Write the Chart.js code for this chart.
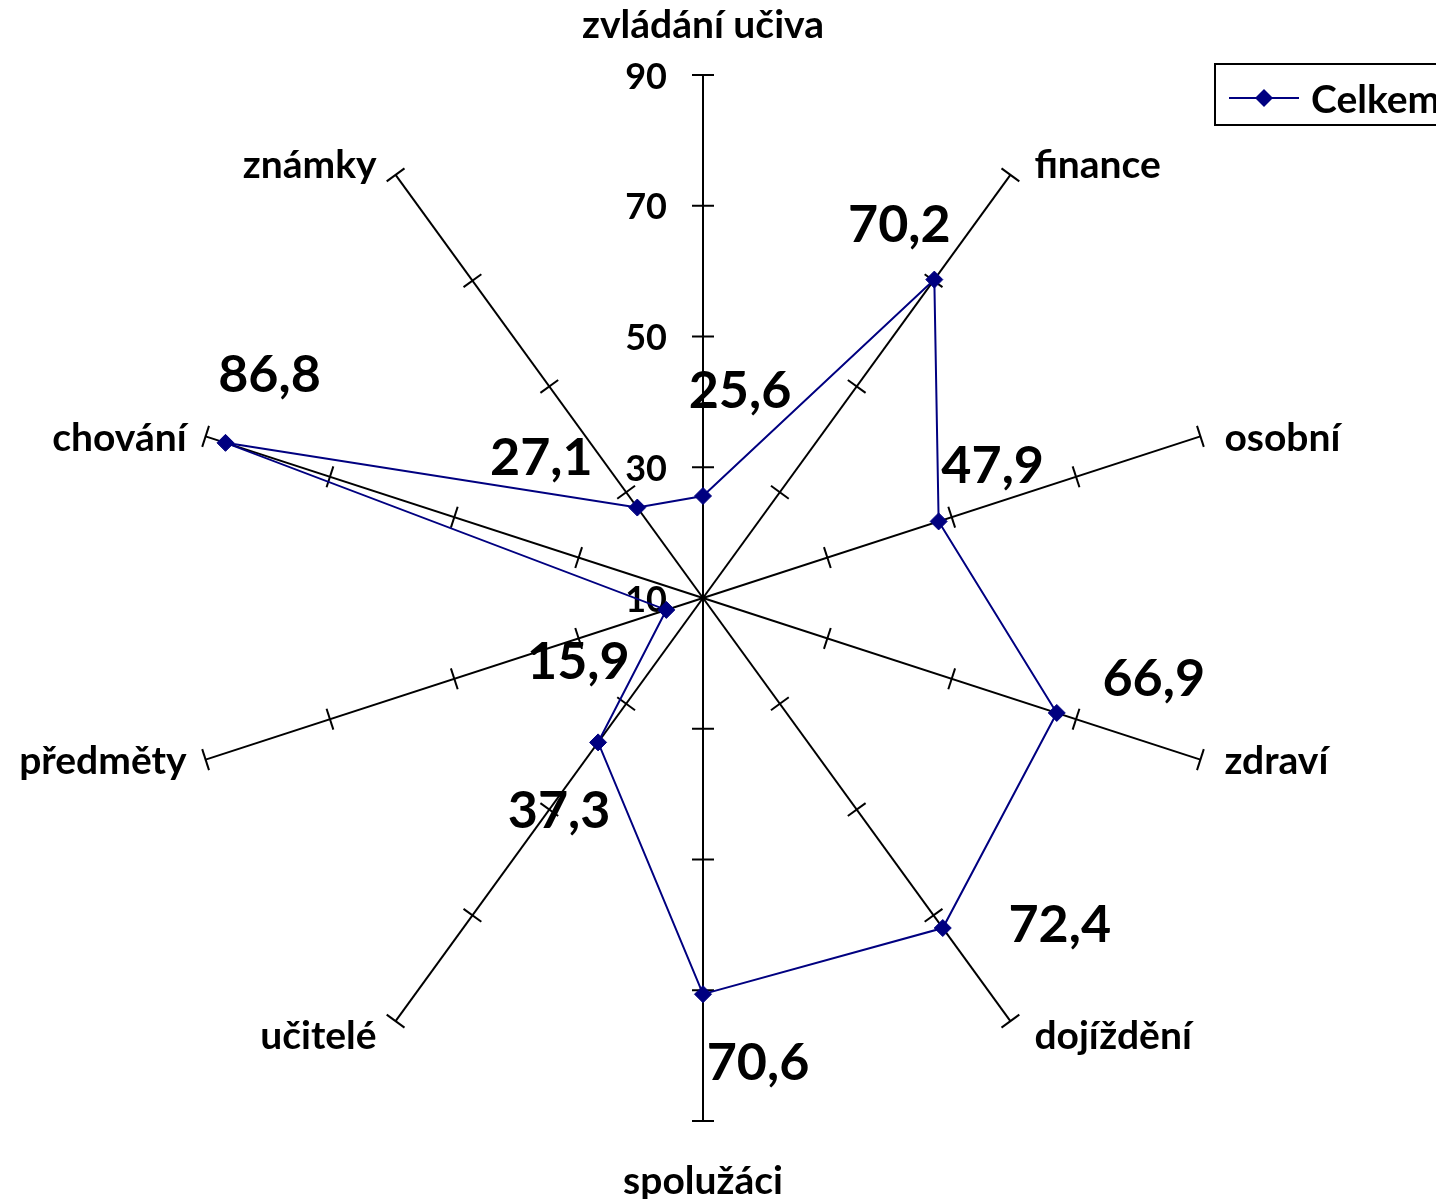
<!DOCTYPE html>
<html>
<head>
<meta charset="utf-8">
<script src="https://cdn.jsdelivr.net/npm/chart.js@4"></script>
<style>
  body { margin: 0; background: #fff; }
  #wrap { width: 1436px; height: 1199px; position: relative; }
</style>
</head>
<body>
<div id="wrap"><canvas id="chart"></canvas></div>
<script>
const categories = ['zvládání učiva', 'finance', 'osobní', 'zdraví', 'dojíždění', 'spolužáci', 'učitelé', 'předměty', 'chování', 'známky'];
const celkem = [25.6, 70.2, 47.9, 66.9, 72.4, 70.6, 37.3, 15.9, 86.8, 27.1];
const tickValues = [10, 30, 50, 70, 90];

// where each value label sits, relative to its point (px)
const labelShift = [[37, -107], [-35, -56], [54, -57], [97, -36], [117, -5], [55, 67], [-39, 67], [-88, 50], [44, -70], [-96, -51]];

const NAVY = '#000080';
const FONT = 'Lato, "Open Sans", sans-serif';

function fmt(v) {
  return String(v).replace('.', ',');
}

const extras = {
  id: 'extras',
  beforeDatasetsDraw(chart) {
    const r = chart.scales.r;
    const ctx = chart.ctx;
    ctx.save();
    // tick marks across every spoke
    ctx.strokeStyle = '#000';
    ctx.lineWidth = 2;
    categories.forEach(function(c, i) {
      const a = r.getIndexAngle(i) - Math.PI / 2;
      const px = -Math.sin(a), py = Math.cos(a);
      tickValues.forEach(function(v) {
        if (v == r.min) return;
        const p = r.getPointPositionForValue(i, v);
        ctx.beginPath();
        ctx.moveTo(p.x - px * 11, p.y - py * 11);
        ctx.lineTo(p.x + px * 11, p.y + py * 11);
        ctx.stroke();
      });
    });

    // tick labels on the vertical axis
    ctx.fillStyle = '#000';
    ctx.font = 'bold 36px ' + FONT;
    ctx.textAlign = 'right';
    ctx.textBaseline = 'middle';
    tickValues.forEach(function(v) {
      const p = r.getPointPositionForValue(0, v);
      ctx.fillText(String(v), r.xCenter - 36, p.y + 2);
    });

    // category labels
    ctx.font = 'bold 39px ' + FONT;
    categories.forEach(function(c, i) {
      const p = r.getPointPositionForValue(i, r.max);
      const dx = p.x - r.xCenter, dy = p.y - r.yCenter;
      let x = p.x, y = p.y;
      if (Math.abs(dx) < 5) {
        ctx.textAlign = 'center';
        y += dy < 0 ? -50 : 60;
      } else {
        ctx.textAlign = dx > 0 ? 'left' : 'right';
        x += dx > 0 ? 24 : -19;
        if (dy < -300) y -= 9;
        else if (dy > 300) y += 15;
        else y += 2;
      }
      ctx.fillText(c, x, y);
    });
    ctx.restore();
  },
  afterDatasetsDraw(chart) {
    const ctx = chart.ctx;
    const meta = chart.getDatasetMeta(0);
    ctx.save();
    ctx.fillStyle = '#000';
    ctx.font = 'bold 52px ' + FONT;
    ctx.textAlign = 'center';
    ctx.textBaseline = 'middle';
    meta.data.forEach(function(pt, i) {
      ctx.fillText(fmt(celkem[i]), pt.x + labelShift[i][0], pt.y + labelShift[i][1] + 2);
    });

    // legend box, running off the right edge
    ctx.strokeStyle = '#000';
    ctx.lineWidth = 2;
    ctx.strokeRect(1215, 64, 240, 61);
    ctx.strokeStyle = NAVY;
    ctx.lineWidth = 2;
    ctx.beginPath();
    ctx.moveTo(1229, 98);
    ctx.lineTo(1299, 98);
    ctx.stroke();
    ctx.fillStyle = NAVY;
    ctx.beginPath();
    ctx.moveTo(1264 - 9, 98);
    ctx.lineTo(1264, 98 - 9);
    ctx.lineTo(1264 + 9, 98);
    ctx.lineTo(1264, 98 + 9);
    ctx.closePath();
    ctx.fill();
    ctx.fillStyle = '#000';
    ctx.font = 'bold 39px ' + FONT;
    ctx.textAlign = 'left';
    ctx.fillText(chart.data.datasets[0].label, 1311, 100);
    ctx.restore();
  }
};

new Chart(document.getElementById('chart'), {
  type: 'radar',
  data: {
    labels: categories,
    datasets: [{
      label: 'Celkem',
      data: celkem,
      borderColor: NAVY,
      borderWidth: 2,
      backgroundColor: 'transparent',
      fill: false,
      pointStyle: 'rectRot',
      pointRadius: 8.5,
      pointBackgroundColor: NAVY,
      pointBorderColor: NAVY,
      pointBorderWidth: 1
    }]
  },
  options: {
    responsive: true,
    maintainAspectRatio: false,
    animation: false,
    layout: { padding: { left: 180, right: 210, top: 75, bottom: 78 } },
    plugins: {
      legend: { display: false },
      tooltip: { enabled: false }
    },
    scales: {
      r: {
        min: 10,
        max: 90,
        ticks: { display: false, stepSize: 20 },
        grid: { display: false },
        angleLines: { color: '#000', lineWidth: 2 },
        pointLabels: { display: false }
      }
    }
  },
  plugins: [extras]
});
</script>
</body>
</html>
